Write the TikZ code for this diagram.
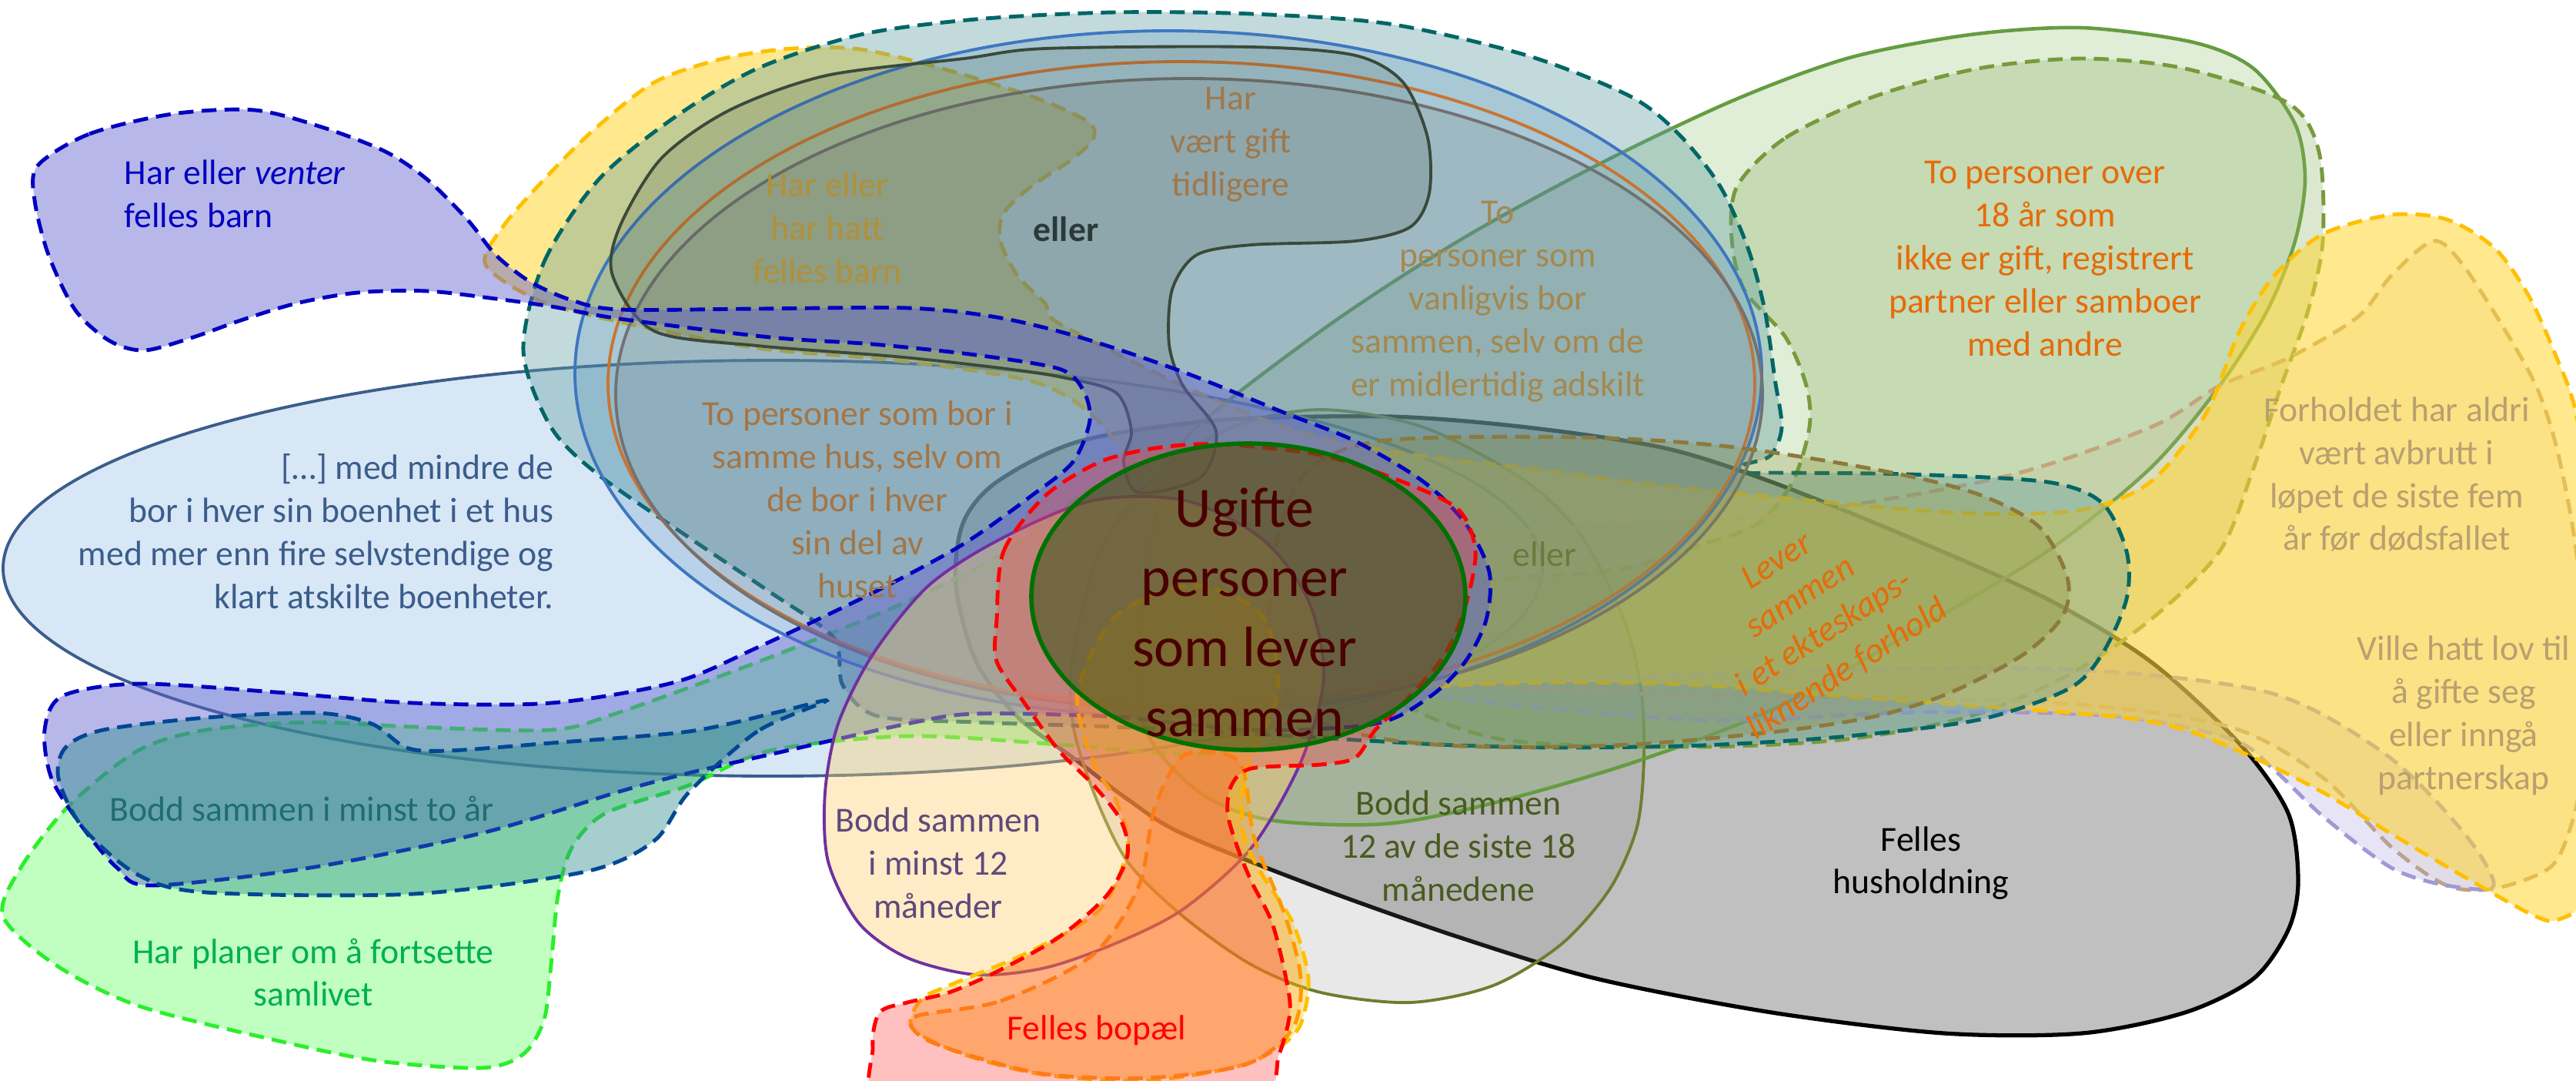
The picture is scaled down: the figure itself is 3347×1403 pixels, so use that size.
\documentclass[tikz,border=0pt]{standalone}
\usepackage{fontspec}
\setmainfont{Carlito}
\usepackage{tikz}

\definecolor{hhline}{HTML}{000000}
\definecolor{hhfill}{HTML}{C0C0C0}
\definecolor{boline}{HTML}{3B5D8C}
\definecolor{bofill}{HTML}{9DC3E6}
\definecolor{olline}{HTML}{6B7F2F}
\definecolor{tanline}{HTML}{C4A47C}
\definecolor{tanfill}{HTML}{C8A878}
\definecolor{lavline}{HTML}{A099D6}
\definecolor{yelline}{HTML}{FFC000}
\definecolor{yelfill}{HTML}{FFD530}
\definecolor{grline}{HTML}{70AD47}
\definecolor{odline}{HTML}{789A3C}
\definecolor{odfill}{HTML}{8CB060}
\definecolor{tealline}{HTML}{006666}
\definecolor{tealfill}{HTML}{5F9EA0}
\definecolor{lobefill}{HTML}{2A8A8A}
\definecolor{bluline}{HTML}{3E76C0}
\definecolor{blufill}{HTML}{2E75B6}
\definecolor{orline}{HTML}{C87533}
\definecolor{gyline}{HTML}{727272}
\definecolor{dkline}{HTML}{3A4A3A}
\definecolor{dkfill}{HTML}{304030}
\definecolor{brline}{HTML}{8C7A3C}
\definecolor{brfill}{HTML}{8C8C30}
\definecolor{barnline}{HTML}{0000C0}
\definecolor{barnfill}{HTML}{6060D0}
\definecolor{limeline}{HTML}{2CEE2C}
\definecolor{limefill}{HTML}{33FF33}
\definecolor{puline}{HTML}{7030A0}
\definecolor{pufill}{HTML}{FFD070}
\definecolor{orgline}{HTML}{FF9900}
\definecolor{orgfill}{HTML}{FF8C00}
\definecolor{redline}{HTML}{FF0000}
\definecolor{redfill}{HTML}{FF4040}
\definecolor{midline}{HTML}{007000}
\definecolor{midfill}{HTML}{3F571B}

\begin{document}
\begin{tikzpicture}[x=0.1mm,y=-0.1mm,
    blob/.style={line width=1.4pt,dash pattern=on 5.5pt off 3pt},
    rim/.style={line width=1.1pt},
    txt/.style={align=center,inner sep=0pt,font=\fontsize{13}{15.9}\selectfont}]
\useasboundingbox (0,0) rectangle (3347,1403);
\clip (0,0) rectangle (3347,1403);

\draw[line width=1.5pt,draw=hhline,fill=hhfill] plot[smooth cycle] coordinates {(1295,626) (1403,573) (1582,546) (1805,541) (1984,555) (2163,582) (2302,626) (2481,698) (2660,778) (2794,859) (2910,966) (2973,1056) (2986,1145) (2973,1208) (2928,1271) (2839,1315) (2705,1342) (2526,1342) (2302,1315) (2074,1271) (1895,1217) (1716,1154) (1537,1083) (1465,1038) (1394,984) (1322,931) (1268,859) (1242,761) (1251,680)};

\draw[rim,draw=boline,fill=bofill,fill opacity=0.4] (1004,738) ellipse [x radius=1000,y radius=270];

\draw[blob,draw=limeline,fill=limefill,fill opacity=0.3] plot[smooth cycle] coordinates {(4,1190) (27,1127) (89,1047) (179,975) (268,948) (403,938) (537,944) (716,948) (805,925) (984,860) (1163,788) (1300,720) (1403,645) (1480,600) (1560,580) (1650,580) (1720,620) (1780,720) (1790,850) (1740,950) (1626,971) (1537,980) (1376,967) (1179,956) (1000,975) (895,1020) (787,1056) (743,1101) (725,1163) (716,1253) (707,1324) (680,1369) (626,1387) (492,1378) (358,1351) (179,1306) (72,1253)};

\draw[rim,draw=olline,fill=gray,fill opacity=0.18] plot[smooth cycle] coordinates {(1716,532) (1850,555) (1984,626) (2056,698) (2110,805) (2132,895) (2136,984) (2127,1074) (2092,1154) (2029,1226) (1940,1280) (1832,1302) (1716,1289) (1626,1253) (1537,1190) (1465,1119) (1421,1029) (1394,940) (1394,850) (1429,716) (1500,620) (1600,555)};

\draw[line width=1.3pt,draw=grline!90!black,fill=grline,fill opacity=0.22] plot[smooth cycle] coordinates {(1537,573) (1716,430) (1895,313) (2074,215) (2253,130) (2403,75) (2560,45) (2705,36) (2850,55) (2928,89) (2982,161) (2995,233) (2982,313) (2946,403) (2884,501) (2794,608) (2660,716) (2481,823) (2302,922) (2123,990) (1944,1042) (1800,1070) (1650,1065) (1560,1030) (1490,950) (1480,820) (1500,680)};

\draw[blob,draw=odline,fill=odfill,fill opacity=0.3] plot[smooth cycle] coordinates {(2257,242) (2320,179) (2436,125) (2570,89) (2705,76) (2839,89) (2973,134) (3013,197) (3018,313) (2999,403) (2964,501) (2928,608) (2884,716) (2794,805) (2687,877) (2560,930) (2400,960) (2200,970) (1950,960) (1800,900) (1780,820) (1900,760) (2100,740) (2212,707) (2284,680) (2329,626) (2351,555) (2347,501) (2320,438) (2266,376) (2250,310)};

\draw[blob,draw=tanline,fill=tanfill,fill opacity=0.15] plot[smooth cycle] coordinates {(1900,700) (2300,670) (2600,620) (2794,555) (2884,501) (2973,465) (3063,412) (3107,358) (3161,313) (3197,340) (3250,421) (3295,501) (3322,582) (3345,700) (3360,850) (3355,1000) (3340,1074) (3313,1127) (3241,1154) (3179,1150) (3107,1100) (3018,1010) (2900,945) (2700,915) (2400,905) (2100,900) (1900,880) (1840,780)};

\draw[blob,draw=lavline,fill=lavline,fill opacity=0.25] plot[smooth cycle] coordinates {(1850,900) (2200,935) (2500,925) (2750,930) (2900,960) (2955,1000) (3018,1060) (3107,1127) (3179,1150) (3240,1150) (3200,1080) (3100,980) (2950,900) (2700,870) (2400,870) (2100,880)};

\draw[blob,draw=yelline,fill=yelfill,fill opacity=0.55] plot[smooth cycle] coordinates {(631,344) (653,295) (707,233) (770,170) (850,107) (940,76) (1029,63) (1118,64) (1224,89) (1340,125) (1412,157) (1421,179) (1394,206) (1340,242) (1304,277) (1300,313) (1322,358) (1358,394) (1376,420) (1537,501) (1671,555) (1805,586) (1984,608) (2163,631) (2403,655) (2570,667) (2705,662) (2794,626) (2866,537) (2910,430) (2955,358) (3018,304) (3107,279) (3179,285) (3241,322) (3286,385) (3322,465) (3347,537) (3370,700) (3375,1000) (3360,1160) (3322,1195) (3286,1186) (3197,1136) (3107,1083) (3018,1029) (2928,984) (2839,948) (2749,931) (2570,917) (2391,904) (2212,890) (2033,886) (1895,890) (1760,900) (1640,860) (1560,760) (1480,620) (1420,540) (1340,495) (1163,468) (984,452) (805,418) (700,390)};

\draw[blob,draw=tealline,fill=tealfill,fill opacity=0.38] plot[smooth cycle] coordinates {(680,456) (707,340) (778,233) (877,152) (984,89) (1118,45) (1268,25) (1447,16) (1626,18) (1805,31) (1984,72) (2118,125) (2181,174) (2235,242) (2271,322) (2293,403) (2306,492) (2315,555) (2300,592) (2265,604) (2272,614) (2310,614) (2481,616) (2660,626) (2731,653) (2763,716) (2763,778) (2731,850) (2687,895) (2570,935) (2391,957) (2212,968) (2033,971) (1895,968) (1778,962) (1626,953) (1447,944) (1268,938) (1140,930) (1095,890) (1083,828) (1002,770) (895,698) (778,617) (716,555)};

\draw[rim,draw=bluline,fill=blufill,fill opacity=0.18] (1518,485) ellipse [x radius=771,y radius=445];
\draw[rim,draw=orline] (1535,498) ellipse [x radius=745,y radius=418];
\draw[rim,draw=gyline,fill=gray,fill opacity=0.2] (1545,512) ellipse [x radius=745,y radius=410];

\draw[rim,draw=dkline,fill=dkfill,fill opacity=0.15] plot[smooth cycle] coordinates {(796,358) (805,295) (859,206) (948,143) (1074,98) (1253,76) (1358,63) (1626,61) (1761,72) (1823,107) (1855,179) (1857,251) (1832,295) (1761,313) (1626,318) (1555,331) (1523,376) (1519,447) (1537,501) (1580,560) (1560,620) (1480,640) (1460,600) (1470,560) (1450,510) (1380,490) (1300,478) (1163,463) (984,449) (850,430)};

\draw[blob,draw=brline,fill=brfill,fill opacity=0.25] plot[smooth cycle] coordinates {(1800,572) (2055,568) (2246,580) (2438,610) (2565,640) (2648,683) (2686,750) (2680,800) (2629,850) (2533,900) (2438,930) (2310,950) (2119,967) (1928,970) (1800,960) (1700,930) (1650,850) (1660,700) (1700,610)};

\draw[blob,draw=barnline,fill=barnfill,fill opacity=0.45] plot[smooth cycle] coordinates {(49,215) (116,174) (224,148) (331,143) (421,166) (501,197) (555,233) (608,286) (644,331) (689,366) (743,390) (805,402) (984,401) (1179,400) (1295,412) (1403,438) (1537,483) (1671,537) (1761,573) (1850,626) (1904,680) (1935,743) (1931,805) (1904,859) (1859,904) (1787,940) (1626,948) (1447,931) (1268,927) (1179,940) (1000,980) (895,1004) (805,1028) (626,1082) (403,1127) (197,1150) (152,1127) (107,1074) (67,1011) (58,948) (81,904) (179,888) (358,899) (537,913) (716,913) (877,886) (984,841) (1134,770) (1251,707) (1340,644) (1394,600) (1416,546) (1407,506) (1376,479) (1268,461) (1134,447) (1000,438) (805,414) (716,398) (644,388) (555,378) (465,380) (385,394) (313,416) (251,438) (188,455) (143,443) (98,403) (63,331) (45,260)};

\draw[blob,draw=tealline!70!blue,fill=lobefill,fill opacity=0.42] plot[smooth cycle] coordinates {(1074,910) (984,950) (895,1029) (850,1092) (761,1132) (537,1161) (268,1159) (179,1136) (107,1074) (76,1011) (85,971) (134,948) (268,932) (412,926) (483,940) (528,971) (582,975) (716,965) (895,950) (1010,925)};

\draw[rim,draw=puline,fill=pufill,fill opacity=0.4] plot[smooth cycle] coordinates {(1072,1029) (1076,1119) (1116,1199) (1179,1244) (1268,1266) (1358,1257) (1450,1225) (1537,1181) (1626,1101) (1690,990) (1720,880) (1700,780) (1640,700) (1540,650) (1420,650) (1300,700) (1206,761) (1134,850) (1089,940)};

\draw[blob,draw=yelline,fill=yelline,fill opacity=0.35] plot[smooth cycle] coordinates {(1197,1298) (1233,1280) (1340,1235) (1429,1181) (1465,1101) (1450,1040) (1420,990) (1400,900) (1450,800) (1550,760) (1640,800) (1660,900) (1620,1000) (1615,1080) (1640,1136) (1680,1199) (1700,1271) (1690,1330) (1662,1360) (1608,1385) (1492,1403) (1358,1396) (1251,1369) (1185,1335)};
\draw[blob,draw=orgline,fill=orgfill,fill opacity=0.2] plot[smooth cycle] coordinates {(1190,1320) (1300,1300) (1420,1240) (1480,1150) (1500,1050) (1540,980) (1610,990) (1630,1090) (1670,1190) (1690,1270) (1680,1335) (1620,1382) (1492,1400) (1358,1395) (1251,1368) (1195,1345)};
\draw[blob,draw=redline,fill=redfill,fill opacity=0.33] plot[smooth cycle] coordinates {(1295,805) (1304,716) (1358,644) (1429,600) (1501,582) (1582,577) (1716,591) (1823,626) (1895,662) (1917,716) (1904,787) (1877,850) (1832,904) (1787,948) (1761,984) (1716,993) (1626,998) (1600,1020) (1595,1056) (1608,1101) (1626,1145) (1653,1199) (1671,1271) (1676,1315) (1662,1369) (1630,1430) (1400,1440) (1150,1440) (1134,1360) (1143,1315) (1179,1302) (1233,1289) (1295,1262) (1376,1217) (1438,1163) (1465,1110) (1456,1065) (1421,1020) (1376,975) (1331,913) (1295,859)};

\draw[line width=1.6pt,draw=midline,fill=midfill,fill opacity=0.6] (1622,775) ellipse [x radius=282,y radius=199];

\node[txt,anchor=west,align=left,text=barnline] (venter) at (161,252) {Har eller \textit{venter}\\felles barn};
\node[txt,anchor=east,align=right,text=boline] (boenhet) at (720,690) {[…] med mindre de\\bor i hver sin boenhet i et hus\\med mer enn fire selvstendige og\\klart atskilte boenheter.};
\node[txt,text={rgb,255:red,176;green,144;blue,58}] (hattbarn) at (1075,296) {Har eller\\har hatt\\felles barn};
\node[txt,text={rgb,255:red,160;green,120;blue,74}] (gift) at (1599,188) {Har\\vært gift\\tidligere};
\node[txt,text={rgb,255:red,42;green,58;blue,58},font=\fontsize{13}{15.9}\selectfont\bfseries] (eller) at (1385,298) {eller};
\node[txt,text={rgb,255:red,165;green,117;blue,69}] (sammehus) at (1114,649) {To personer som bor i\\samme hus, selv om\\de bor i hver\\sin del av\\huset};
\node[txt,text={rgb,255:red,164;green,136;blue,79}] (vanligvis) at (1946,392) {To\\personer som\\vanligvis bor\\sammen, selv om de\\er midlertidig adskilt};
\node[txt,text={rgb,255:red,106;green,122;blue,58}] (eller2) at (2007,720) {eller};
\node[txt,text={rgb,255:red,228;green,108;blue,10}] (over18) at (2657,336) {To personer over\\18 år som\\ikke er gift, registrert\\partner eller samboer\\med andre};
\node[txt,text={rgb,255:red,184;green,160;blue,112}] (avbrutt) at (3114,616) {Forholdet har aldri\\vært avbrutt i\\løpet de siste fem\\år før dødsfallet};
\node[txt,text={rgb,255:red,184;green,160;blue,112}] (lovtil) at (3201,929) {Ville hatt lov til\\å gifte seg\\eller inngå\\partnerskap};
\node[txt,text=black] (husholdning) at (2496,1121) {Felles\\husholdning};
\node[txt,text={rgb,255:red,74;green,90;blue,32}] (atten) at (1895,1099) {Bodd sammen\\12 av de siste 18\\månedene};
\node[txt,text={rgb,255:red,31;green,110;blue,110}] (toaar) at (392,1050) {Bodd sammen i minst to år};
\node[txt,text={rgb,255:red,95;green,73;blue,122}] (tolv) at (1219,1121) {Bodd sammen\\i minst 12\\måneder};
\node[txt,text={rgb,255:red,0;green,176;blue,80}] (planer) at (407,1263) {Har planer om å fortsette\\samlivet};
\node[txt,text=redline] (bopel) at (1425,1338) {Felles bopæl};
\node[txt,text={rgb,255:red,228;green,108;blue,10},rotate=33,font=\fontsize{13}{15.9}\selectfont\itshape] (lever) at (2355,800) {Lever\\sammen\\i et ekteskaps-\\liknende forhold};
\node[txt,text={rgb,255:red,74;green,0;blue,0},font=\fontsize{21}{25.8}\selectfont] (ugifte) at (1617,795) {Ugifte\\personer\\som lever\\sammen};
\end{tikzpicture}
\end{document}
